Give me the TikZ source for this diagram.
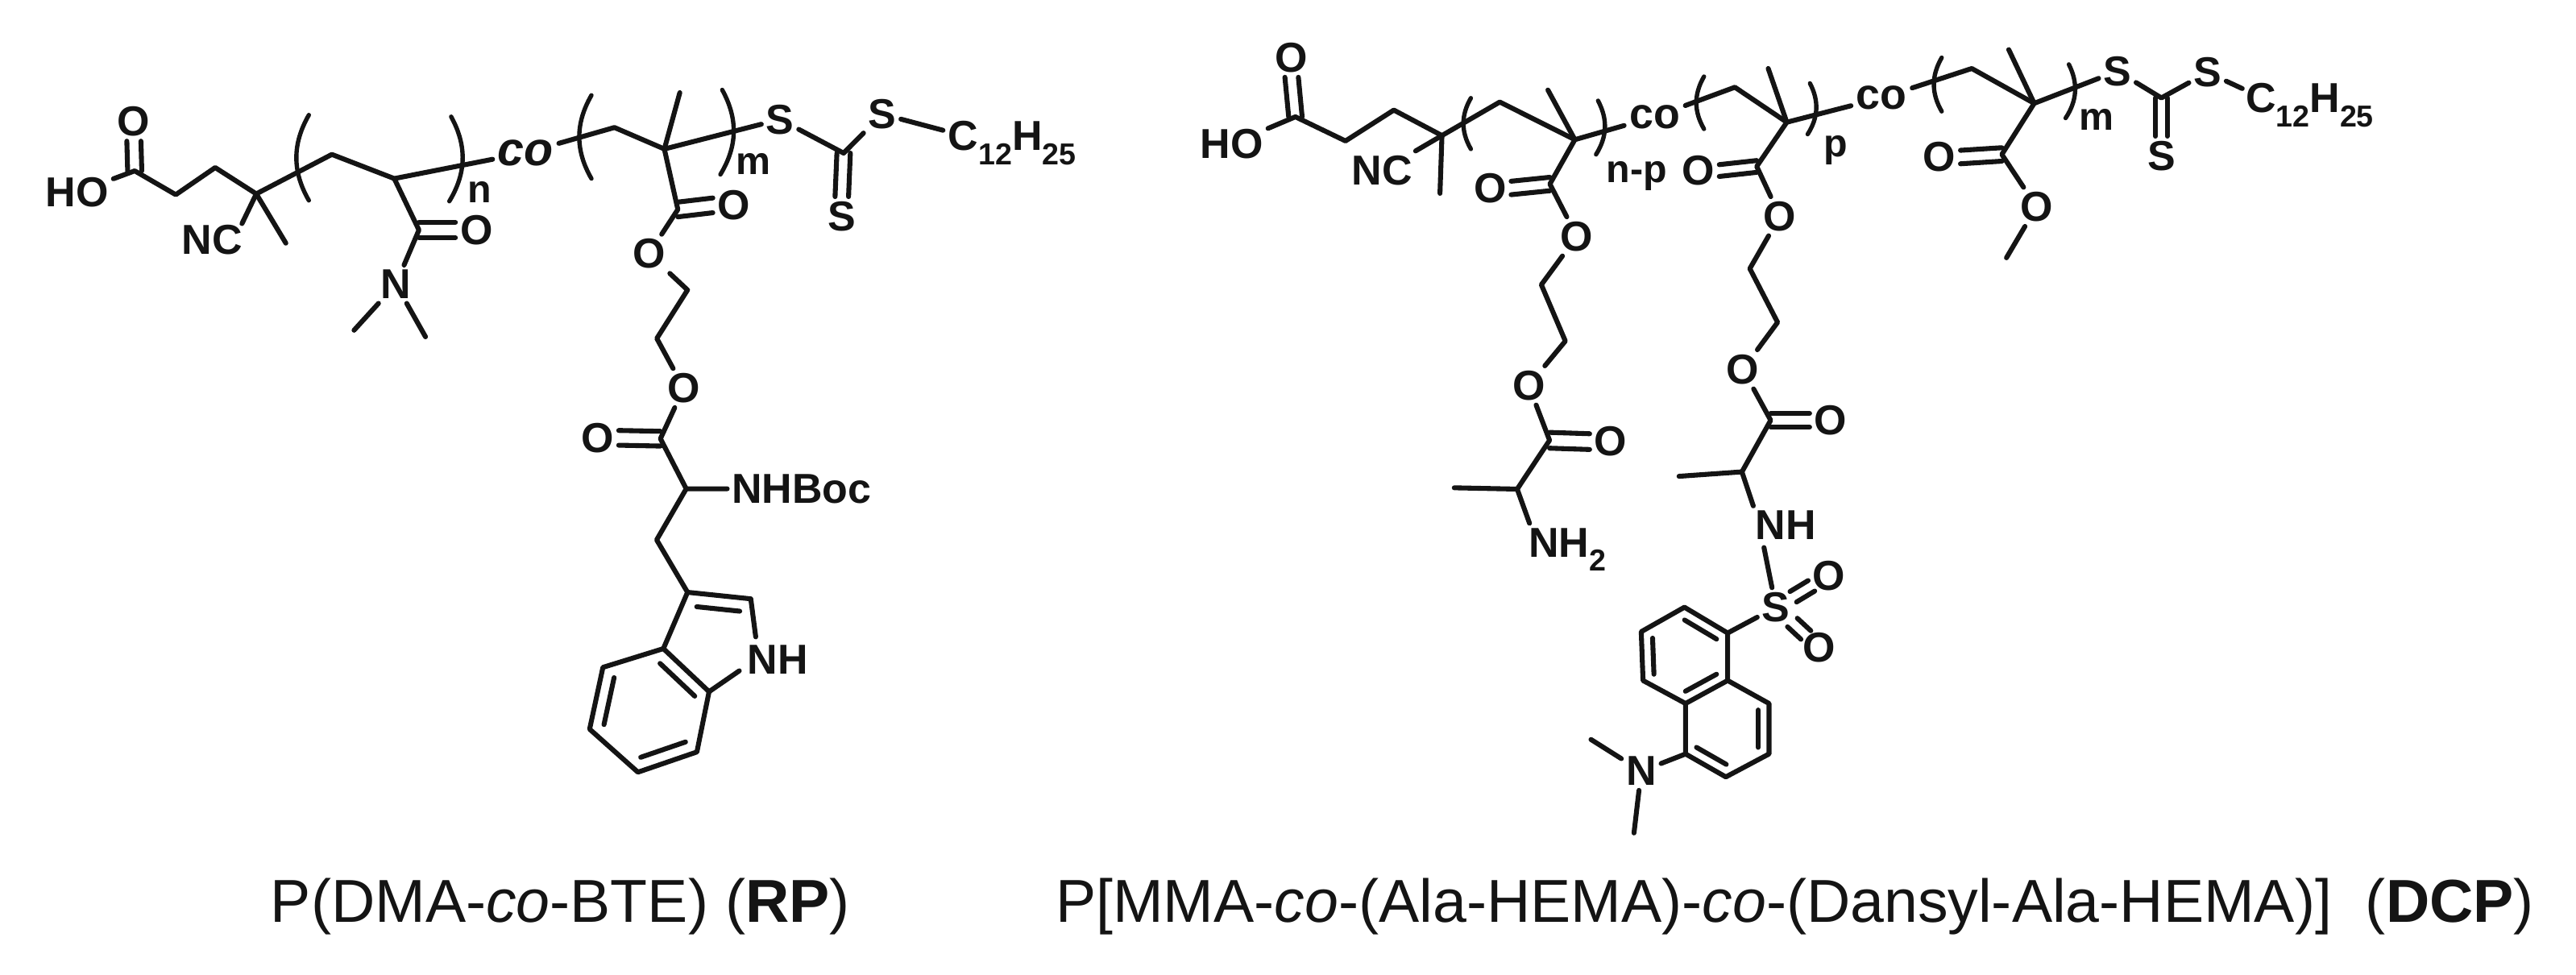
\documentclass[tikz,border=0pt]{standalone}
\usepackage{fontspec}
\setmainfont{Liberation Sans}
\usetikzlibrary{calc}
\newcommand\sbs[1]{\raisebox{-.34em}{\fontsize{10.5}{10.5}\selectfont #1}}
\newcommand\dblh[3]{\draw ($(#1)+(0,#3)$) -- ($(#2)+(0,#3)$); \draw ($(#1)+(0,-#3)$) -- ($(#2)+(0,-#3)$);}
\newcommand\dblv[3]{\draw ($(#1)+(#3,0)$) -- ($(#2)+(#3,0)$); \draw ($(#1)+(-#3,0)$) -- ($(#2)+(-#3,0)$);}
\newcommand\inb[4]{\draw ($(#1)!#4!(#3)$) -- ($(#2)!#4!(#3)$);}
\tikzset{
 atom/.style={font=\fontsize{14.5}{14}\selectfont\bfseries,inner sep=0.8pt},
 idx/.style={font=\fontsize{13.5}{14}\selectfont\bfseries,inner sep=1pt},
 coa/.style={font=\fontsize{16.5}{16}\selectfont\bfseries\itshape,inner sep=1pt},
 cob/.style={font=\fontsize{15}{15}\selectfont\bfseries,inner sep=1pt},
 capt/.style={font=\fontsize{21}{21}\selectfont,inner sep=0pt},
 tail/.style={font=\fontsize{14.5}{14}\selectfont\bfseries,inner sep=0pt,anchor=base west},
 brk/.style={line width=1.5pt}
}
\begin{document}
\begin{tikzpicture}[x=0.02cm,y=-0.02cm,line width=1.7pt,line join=round,line cap=round,color=black!92]
\useasboundingbox (0,0) rectangle (1568,593.45);
% ---------- RP ----------
\coordinate (a1) at (82,104); \coordinate (a2) at (107,118.5); \coordinate (a3) at (131,102);
\coordinate (a4) at (156,118); \coordinate (a5) at (174,148); \coordinate (a6) at (202,94);
\coordinate (a7) at (240,108.7); \coordinate (a8) at (255,140); \coordinate (a9) at (215.5,201);
\coordinate (a10) at (259,205);
\coordinate (b1t) at (188,70); \coordinate (b1b) at (188,122);
\coordinate (b2t) at (274.6,71); \coordinate (b2b) at (273.5,122.5);
\coordinate (b3t) at (360,58); \coordinate (b3b) at (360,108.7);
\coordinate (b4t) at (439.6,54.7); \coordinate (b4b) at (438.5,106.2);
\coordinate (c1) at (374,77.6); \coordinate (c2) at (404.4,90.7); \coordinate (c3) at (413.8,56.4);
\coordinate (c4) at (513.5,93.2); \coordinate (c5) at (412.6,127.5); \coordinate (c6) at (418.5,176.5);
\coordinate (c7) at (399.8,206); \coordinate (c8) at (402,267); \coordinate (c9) at (417.7,297.5);
\coordinate (c10) at (399.7,328.6); \coordinate (c11) at (418.5,360.5); \coordinate (c12) at (457,364.5);
\coordinate (c13) at (403.8,394.8); \coordinate (c14) at (431.6,421); \coordinate (c15) at (424.2,457.7);
\coordinate (c16) at (388.3,470); \coordinate (c17) at (358.9,443.8); \coordinate (c18) at (367,406.2);
\coordinate (pc) at (436,388); \coordinate (bc) at (395.3,432.3); \coordinate (tl1) at (574,79.3);
\node[atom] (hoL) at (47,117) {HO};
\node[atom] (oL1) at (81.5,74) {O};
\node[atom] (ncL) at (129,146) {NC};
\node[atom] (oL2) at (290,140) {O};
\node[atom] (nL) at (241,173) {N};
\node[idx] (nidx) at (292,117) {n};
\node[coa] (coL) at (320,93) {co};
\node[idx] (midx) at (458.4,99.7) {m};
\node[atom] (sL1) at (474.8,72.7) {S};
\node[atom] (sL2) at (537,69.5) {S};
\node[atom] (sL3) at (512.4,131.6) {S};
\node[tail] (tailL) at (575.7,91.5) {C\sbs{12}H\sbs{25}};
\node[atom] (oL3) at (446.7,125) {O};
\node[atom] (oL4) at (395,154.5) {O};
\node[atom] (oL5) at (416.2,236.2) {O};
\node[atom] (oL6) at (363.8,266.5) {O};
\node[atom] (boc) at (488,297.5) {NHBoc};
\node[atom] (nhL) at (473.3,401.3) {NH};
\draw (hoL) -- (a1) -- (a2) -- (a3) -- (a4) -- (a6) -- (a7) -- (coL);
\dblv{a1}{oL1.south}{4.3}
\draw (a4) -- ($(ncL.north east)+(-3,2)$);
\draw (a4) -- (a5);
\draw (a7) -- (a8) -- (nL);
\dblh{a8}{oL2.west}{4.7}
\draw (nL) -- (a9); \draw (nL) -- (a10);
\draw[brk] (b1t) to[bend right=30] (b1b);
\draw[brk] (b2t) to[bend left=30] (b2b);
\draw (coL) -- (c1) -- (c2) -- (sL1);
\draw (c2) -- (c3);
\draw[brk] (b3t) to[bend right=30] (b3b);
\draw[brk] (b4t) to[bend left=30] (b4b);
\draw (sL1) -- (c4) -- (sL2) -- (tl1);
\dblv{c4}{sL3.north}{4.1}
\draw (c2) -- (c5) -- (oL4) -- (c6) -- (c7) -- (oL5) -- (c8) -- (c9) -- (boc);
\dblh{c5}{oL3.west}{4.5}
\dblh{c8}{oL6.east}{4.5}
\draw (c9) -- (c10) -- (c11) -- (c12) -- ($(nhL.north west)+(8,-2)$);
\draw (c11) -- (c13) -- (c14) -- ($(nhL.west)+(-2,7)$);
\draw (c14) -- (c15) -- (c16) -- (c17) -- (c18) -- (c13);
\inb{c11}{c12}{pc}{.32}
\inb{c13}{c14}{bc}{.24}
\inb{c15}{c16}{bc}{.24}
\inb{c17}{c18}{bc}{.24}
% ---------- DCP ----------
\coordinate (r1) at (788.5,71.1); \coordinate (r2) at (819,85.8); \coordinate (r3) at (848.4,67);
\coordinate (r4) at (877.7,82.5); \coordinate (r5) at (876.5,117.7); \coordinate (r6) at (912.9,62.1);
\coordinate (r7) at (958.6,85); \coordinate (r8) at (942.2,54.8); \coordinate (r9) at (943.4,112);
\coordinate (r10) at (938.2,173.3); \coordinate (r11) at (952.8,207.6); \coordinate (r12) at (943.2,268);
\coordinate (r13) at (923.5,297.7); \coordinate (r14) at (885.2,296.9); \coordinate (nh2e) at (931,318.5);
\coordinate (r15) at (1056,53.1); \coordinate (r16) at (1087.6,74.4); \coordinate (r17) at (1076.3,41.7);
\coordinate (r18) at (1069.3,101.3); \coordinate (r19) at (1065.1,163.5); \coordinate (r20) at (1082,196.2);
\coordinate (r21) at (1077.8,255.8); \coordinate (r22) at (1060.3,287.2); \coordinate (r23) at (1022,289.9);
\coordinate (r30) at (1200.2,41.7); \coordinate (r31) at (1238.2,62.9); \coordinate (r32) at (1222.7,30.2);
\coordinate (r33) at (1315.6,59.6); \coordinate (r34) at (1218.5,94); \coordinate (r35) at (1221.3,156.9);
\coordinate (tl2) at (1364.8,53.9);
\coordinate (q1t) at (895.3,59.7); \coordinate (q1b) at (895.3,90.7);
\coordinate (q2t) at (972.7,61.3); \coordinate (q2b) at (971.5,94);
\coordinate (q3t) at (1037.2,46.6); \coordinate (q3b) at (1037.2,78.5);
\coordinate (q4t) at (1101.7,50.7); \coordinate (q4b) at (1100.3,81.7);
\coordinate (q5t) at (1181.9,35.1); \coordinate (q5b) at (1181.9,67.8);
\coordinate (q6t) at (1259.3,39.2); \coordinate (q6b) at (1257.3,71.9);
\coordinate (w1) at (1051.6,385.3); \coordinate (w2) at (1025.3,369.6); \coordinate (w3) at (999,384.5);
\coordinate (w4) at (1000.1,414.2); \coordinate (w5) at (1026,428.2); \coordinate (w6) at (1051.6,414.2);
\coordinate (w7) at (1076.8,428.2); \coordinate (w8) at (1076.8,458.9); \coordinate (w9) at (1050.5,472.9);
\coordinate (w10) at (1026,458.9);
\coordinate (wa) at (1025.6,399.5); \coordinate (wb) at (1051.5,443.5);
\coordinate (me1) at (968.4,450.1); \coordinate (me2) at (994.6,507);
\node[atom] (hoR) at (749.8,87.5) {HO};
\node[atom] (oR1) at (786.2,35.1) {O};
\node[atom] (ncR) at (841.3,103.8) {NC};
\node[cob] (coA) at (1007.2,71.1) {co};
\node[idx] (npidx) at (996.2,107) {n-p};
\node[atom] (oR2) at (907,114.4) {O};
\node[atom] (oR3) at (959.8,143.9) {O};
\node[atom] (oR4) at (930.5,234.6) {O};
\node[atom] (oR5) at (980.4,268.8) {O};
\node[tail] (nh2) at (929,339) {NH\sbs{2}};
\node[idx] (pidx) at (1117.2,91.5) {p};
\node[cob] (coB) at (1145.3,59.6) {co};
\node[atom] (oR6) at (1033.7,103.8) {O};
\node[atom] (oR7) at (1083.4,131.6) {O};
\node[atom] (oR8) at (1060.9,224.8) {O};
\node[atom] (oR9) at (1114.3,255.8) {O};
\node[atom] (nhR) at (1087,319.6) {NH};
\node[atom] (sR) at (1081,369.6) {S};
\node[atom] (oS1) at (1113,350.3) {O};
\node[atom] (oS2) at (1107.4,394.1) {O};
\node[atom] (nR) at (999,469.4) {N};
\node[idx] (mR) at (1276.2,72.7) {m};
\node[atom] (sR1) at (1288.8,43.3) {S};
\node[atom] (sR2) at (1343.7,44.1) {S};
\node[atom] (sR3) at (1315.6,94.8) {S};
\node[tail] (tailR) at (1365.5,68.5) {C\sbs{12}H\sbs{25}};
\node[atom] (oR10) at (1180.5,95.6) {O};
\node[atom] (oR11) at (1239.6,125.9) {O};
\draw (hoR) -- (r1) -- (r2) -- (r3) -- (r4) -- (r6) -- (r7) -- (coA);
\dblv{r1}{oR1.south}{4.1}
\draw (r4) -- (ncR); \draw (r4) -- (r5);
\draw (r7) -- (r8);
\draw[brk] (q1t) to[bend right=30] (q1b);
\draw[brk] (q2t) to[bend left=30] (q2b);
\draw (r7) -- (r9) -- (oR3) -- (r10) -- (r11) -- (oR4) -- (r12) -- (r13) -- (r14);
\dblh{r9}{oR2.east}{4.1}
\dblh{r12}{oR5.west}{4.8}
\draw (r13) -- (nh2e);
\draw (coA) -- (r15) -- (r16) -- (coB);
\draw (r16) -- (r17);
\draw[brk] (q3t) to[bend right=30] (q3b);
\draw[brk] (q4t) to[bend left=30] (q4b);
\draw (r16) -- (r18) -- (oR7) -- (r19) -- (r20) -- (oR8) -- (r21) -- (r22) -- (r23);
\dblh{r18}{oR6.east}{3.6}
\dblh{r21}{oR9.west}{4.2}
\draw (r22) -- ($(nhR.north west)+(1.5,0)$);
\draw ($(nhR.south west)+(8,2)$) -- (sR);
\draw ($(sR)!.33!(oS1)+(2,3.2)$) -- ($(sR)!.675!(oS1)+(2,3.2)$);
\draw ($(sR)!.33!(oS1)+(-2,-3.2)$) -- ($(sR)!.675!(oS1)+(-2,-3.2)$);
\draw ($(sR)!.38!(oS2)+(3,-2.6)$) -- ($(sR)!.69!(oS2)+(3,-2.6)$);
\draw ($(sR)!.38!(oS2)+(-3,2.6)$) -- ($(sR)!.69!(oS2)+(-3,2.6)$);
\draw (sR) -- (w1) -- (w2) -- (w3) -- (w4) -- (w5) -- (w6) -- (w1);
\draw (w6) -- (w7) -- (w8) -- (w9) -- (w10) -- (w5);
\draw (w10) -- (nR) -- (me1);
\draw (nR) -- (me2);
\inb{w1}{w2}{wa}{.26}
\inb{w3}{w4}{wa}{.26}
\inb{w5}{w6}{wa}{.26}
\inb{w7}{w8}{wb}{.26}
\inb{w9}{w10}{wb}{.26}
\draw (coB) -- (r30) -- (r31) -- (sR1) -- (r33) -- (sR2) -- (tl2);
\draw (r31) -- (r32);
\draw[brk] (q5t) to[bend right=30] (q5b);
\draw[brk] (q6t) to[bend left=30] (q6b);
\dblv{r33}{sR3.north}{3.6}
\draw (r31) -- (r34) -- (oR11) -- (r35);
\dblh{r34}{oR10.east}{4.1}
% ---------- captions ----------
\node[capt] (capL) at (341,552) {P(DMA-\textit{co}-BTE) (\textbf{RP})};
\node[capt] (capR) at (1092.5,552) {P[MMA-\textit{co}-(Ala-HEMA)-\textit{co}-(Dansyl-Ala-HEMA)]\ \ (\textbf{DCP})};
\end{tikzpicture}
\end{document}
